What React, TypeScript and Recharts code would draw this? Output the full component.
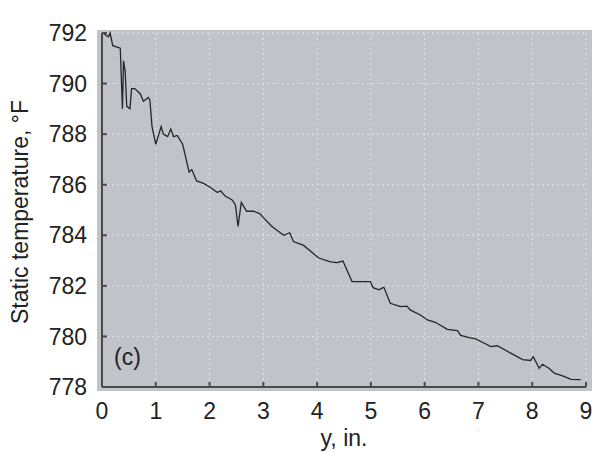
import { LineChart, Line, XAxis, YAxis, CartesianGrid } from "recharts";

// distance y, in.
const yPos = [
  0.02, 0.08, 0.12, 0.15, 0.2, 0.34, 0.38, 0.4, 0.43, 0.46, 0.52, 0.55, 0.61,
  0.66, 0.71, 0.77, 0.86, 0.89, 0.93, 1.0, 1.1, 1.14, 1.22, 1.28, 1.33, 1.4,
  1.5, 1.62, 1.67, 1.76, 1.89, 2.01, 2.14, 2.21, 2.29, 2.42, 2.48, 2.53, 2.59,
  2.69, 2.82, 2.94, 3.0, 3.16, 3.38, 3.49, 3.56, 3.75, 4.03, 4.25, 4.37, 4.48,
  4.65, 4.84, 4.99, 5.04, 5.15, 5.24, 5.36, 5.55, 5.67, 5.73, 5.92, 6.05, 6.2,
  6.42, 6.61, 6.67, 6.85, 6.95, 7.1, 7.23, 7.35, 7.6, 7.82, 7.97, 8.02, 8.13,
  8.19, 8.31, 8.41, 8.59, 8.72, 8.9,
];

// static temperature, °F
const temps = [
  792.0, 791.9, 791.85, 792.0, 791.5, 791.4, 789.0, 790.9, 790.5, 789.1, 789.0,
  789.8, 789.8, 789.7, 789.6, 789.3, 789.45, 789.35, 788.3, 787.6, 788.3, 788.0,
  787.9, 788.2, 787.9, 787.95, 787.6, 786.5, 786.6, 786.15, 786.05, 785.9,
  785.7, 785.75, 785.55, 785.4, 785.2, 784.35, 785.3, 784.95, 784.95, 784.85,
  784.7, 784.35, 784.0, 784.1, 783.75, 783.6, 783.1, 782.95, 782.92, 782.98,
  782.17, 782.17, 782.17, 781.93, 781.84, 781.95, 781.31, 781.18, 781.2,
  781.05, 780.85, 780.65, 780.56, 780.28, 780.23, 780.04, 779.94, 779.9,
  779.74, 779.6, 779.63, 779.34, 779.08, 779.05, 779.2, 778.74, 778.9, 778.74,
  778.55, 778.42, 778.3, 778.29,
];

const xTicks = [0, 1, 2, 3, 4, 5, 6, 7, 8, 9];
const yTicks = [778, 780, 782, 784, 786, 788, 790, 792];

const data = yPos.map((y, i) => ({ y, t: temps[i] }));

const font = "'Liberation Sans', Arial, sans-serif";
const axisColor = "#4a4a4a";
const textColor = "#222";
const fs = 23;

function YLabel(props: any) {
  const vb = props.viewBox;
  const cx = 20;
  const cy = vb.y + vb.height / 2 + 2;
  return (
    <text
      x={cx}
      y={cy}
      transform={`rotate(-90, ${cx}, ${cy})`}
      textAnchor="middle"
      dominantBaseline="central"
      fontSize={fs}
      fontFamily={font}
      fill={textColor}
    >
      Static temperature, °F
    </text>
  );
}

function XLabel(props: any) {
  const vb = props.viewBox;
  return (
    <text
      x={vb.x + vb.width / 2}
      y={vb.y + 59}
      textAnchor="middle"
      fontSize={fs}
      fontFamily={font}
      fill={textColor}
    >
      y, in.
    </text>
  );
}

export default function App() {
  return (
    <div
      style={{
        position: "absolute",
        left: 0,
        top: 0,
        width: 592,
        height: 453,
        background: "#fff",
        fontFamily: font,
      }}
    >
      <div
        style={{
          position: "absolute",
          left: 97,
          top: 30,
          width: 495,
          height: 361,
          background: "#c0c3c9",
        }}
      />
      <div
        style={{
          position: "absolute",
          left: 114,
          top: 344,
          fontSize: fs,
          color: textColor,
        }}
      >
        (c)
      </div>
      <div style={{ position: "absolute", left: 0, top: 0 }}>
        <LineChart
          width={592}
          height={453}
          data={data}
          margin={{ top: 33, right: 6, bottom: 0, left: 0 }}
        >
          <CartesianGrid
            stroke="#e2e4e8"
            strokeDasharray="2 3"
            strokeWidth={1}
          />
          <XAxis
            dataKey="y"
            type="number"
            domain={[0, 9]}
            ticks={xTicks}
            interval={0}
            height={66}
            stroke={axisColor}
            strokeWidth={2}
            tickSize={-5}
            tickMargin={21}
            tick={{ fontSize: fs, fill: textColor, fontFamily: font }}
            label={<XLabel />}
          />
          <YAxis
            dataKey="t"
            type="number"
            domain={[778, 792]}
            ticks={yTicks}
            interval={0}
            width={102}
            stroke={axisColor}
            strokeWidth={2}
            tickSize={-5}
            tickMargin={20}
            tick={{ fontSize: fs, fill: textColor, fontFamily: font }}
            label={<YLabel />}
          />
          <Line
            type="linear"
            dataKey="t"
            stroke="#262626"
            strokeWidth={1.3}
            dot={false}
            isAnimationActive={false}
          />
        </LineChart>
      </div>
    </div>
  );
}
